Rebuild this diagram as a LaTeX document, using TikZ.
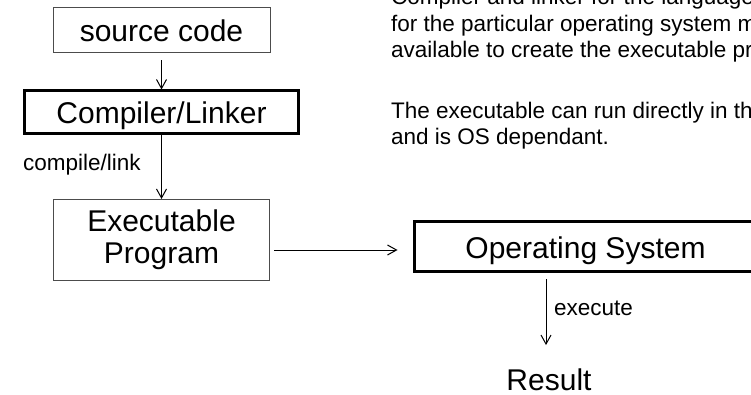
\documentclass[tikz,border=0pt]{standalone}
\usepackage{fontspec}
\setmainfont{Liberation Sans}
\usetikzlibrary{arrows.meta,calc}
\begin{document}
\begin{tikzpicture}[x=1pt,y=-1pt,
  box/.style={draw=black!70,line width=1pt,inner sep=0pt,align=center,
    font=\fontsize{30}{32}\selectfont},
  oneline/.style={text height=23pt,text depth=0pt},
  heavybox/.style={box,draw=black,line width=3pt},
  note/.style={inner sep=0pt,anchor=base west,font=\fontsize{22.5}{27}\selectfont},
  flow/.style={line width=1pt,-{Straight Barb[length=9pt,width=10pt]}}]

\useasboundingbox (0,0) rectangle (751,395);
\clip (0,0) rectangle (751,395);

% blocks of the build chain
\node[box,oneline,minimum width=217pt,minimum height=45pt] (src) at (161.5,30.5) {source code};
\node[heavybox,oneline,minimum width=274pt,minimum height=43pt] (cl) at (161.5,112.5) {Compiler/Linker};
\node[box,minimum width=216pt,minimum height=81pt] (exe) at (161.5,240) {Executable\\Program};
\node[heavybox,oneline,minimum width=343pt,minimum height=50pt] (os) at (585.5,246.5) {Operating System};
\node[inner sep=0pt,anchor=base,font=\fontsize{30}{32}\selectfont] (res) at (549,390) {Result};

% edge labels
\node[note] (cllbl) at (23,170.5) {compile/link};
\node[note] (exlbl) at (554,315) {execute};

% explanatory notes
\node[note] (t1) at (391,5) {Compiler and linker for the language};
\node[note] (t2) at (391,31.5) {for the particular operating system must};
\node[note] (t3) at (391,58) {available to create the executable program.};
\node[note] (t4) at (391,119) {The executable can run directly in the OS};
\node[note] (t5) at (391,145) {and is OS dependant.};

% connectors
\draw[flow] ([yshift=-7pt]src.south) -- (cl.north);
\draw[flow] (cl.south) -- (exe.north);
\draw[flow] ([shift={(4,10)}]exe.east) -- ([shift={(-15,3.5)}]os.west);
\draw[flow] ($(os.south -| res.north)+(-3,6)$) -- ($(res.north)+(-3,-23)$);
\end{tikzpicture}
\end{document}
